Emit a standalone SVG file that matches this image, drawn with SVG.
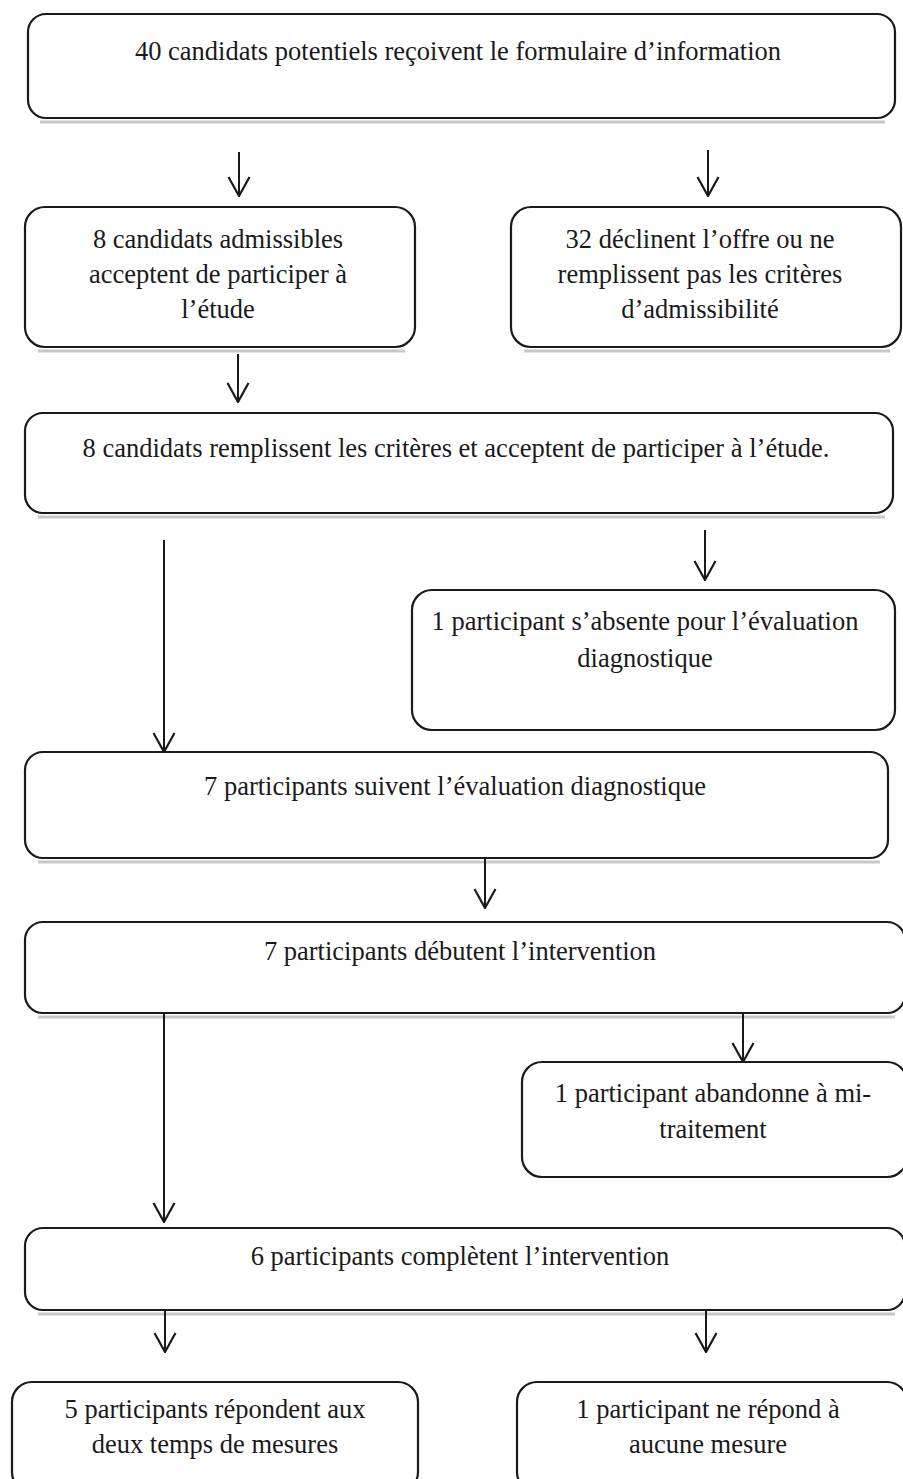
<svg xmlns="http://www.w3.org/2000/svg" width="903" height="1479" viewBox="0 0 903 1479">
<style>
.box{fill:#fff;stroke:#1a1a1a;stroke-width:2.2}
.sh{fill:none;stroke:#c8c8c8;stroke-width:3}
.t{font-family:"Liberation Serif","Times New Roman",serif;font-size:26.5px;fill:#1a1a1a;text-anchor:middle}
.c{stroke:#1a1a1a;stroke-width:2;fill:none}
</style>
<defs>
<marker id="ah" viewBox="0 0 21 24" refX="20" refY="12" markerWidth="21" markerHeight="24" markerUnits="userSpaceOnUse" orient="auto">
<path d="M1 1.5 L20 12 L1 22.5" fill="none" stroke="#1a1a1a" stroke-width="2.2"/>
</marker>
</defs>
<rect width="903" height="1479" fill="#fff"/>
<g id="n1">
<line class="sh" x1="40" y1="122" x2="885" y2="122"/>
<rect class="box" x="28" y="14" width="867" height="104" rx="18"/>
<text class="t" x="458" y="60">40 candidats potentiels reçoivent le formulaire d’information</text>
</g>
<g id="n2">
<line class="sh" x1="38" y1="351" x2="405" y2="351"/>
<rect class="box" x="25" y="207" width="390" height="140" rx="20"/>
<text class="t" x="218" y="248">8 candidats admissibles</text>
<text class="t" x="218" y="283">acceptent de participer à</text>
<text class="t" x="218" y="318">l’étude</text>
</g>
<g id="n3">
<line class="sh" x1="524" y1="351" x2="890" y2="351"/>
<rect class="box" x="511" y="207" width="390" height="140" rx="20"/>
<text class="t" x="700" y="248">32 déclinent l’offre ou ne</text>
<text class="t" x="700" y="283">remplissent pas les critères</text>
<text class="t" x="700" y="318">d’admissibilité</text>
</g>
<g id="n4">
<line class="sh" x1="38" y1="517" x2="885" y2="517"/>
<rect class="box" x="25" y="413" width="868" height="100" rx="18"/>
<text class="t" x="456" y="457">8 candidats remplissent les critères et acceptent de participer à l’étude.</text>
</g>
<g id="n5">
<rect class="box" x="412" y="590" width="483" height="140" rx="20"/>
<text class="t" x="645" y="630">1 participant s’absente pour l’évaluation</text>
<text class="t" x="645" y="667">diagnostique</text>
</g>
<g id="n6">
<line class="sh" x1="38" y1="862" x2="880" y2="862"/>
<rect class="box" x="25" y="752" width="863" height="106" rx="18"/>
<text class="t" x="455" y="795">7 participants suivent l’évaluation diagnostique</text>
</g>
<g id="n7">
<line class="sh" x1="38" y1="1017" x2="895" y2="1017"/>
<rect class="box" x="25" y="922" width="880" height="91" rx="18"/>
<text class="t" x="460" y="960">7 participants débutent l’intervention</text>
</g>
<g id="n8">
<rect class="box" x="522" y="1062" width="385" height="115" rx="20"/>
<text class="t" x="713" y="1102">1 participant abandonne à mi-</text>
<text class="t" x="713" y="1138">traitement</text>
</g>
<g id="n9">
<line class="sh" x1="38" y1="1314" x2="895" y2="1314"/>
<rect class="box" x="25" y="1228" width="880" height="82" rx="18"/>
<text class="t" x="460" y="1265">6 participants complètent l’intervention</text>
</g>
<g id="n10">
<rect class="box" x="12" y="1382" width="406" height="110" rx="20"/>
<text class="t" x="215" y="1418">5 participants répondent aux</text>
<text class="t" x="215" y="1453">deux temps de mesures</text>
</g>
<g id="n11">
<rect class="box" x="517" y="1382" width="390" height="110" rx="20"/>
<text class="t" x="708" y="1418">1 participant ne répond à</text>
<text class="t" x="708" y="1453">aucune mesure</text>
</g>
<g id="connectors">
<line class="c" x1="239" y1="152" x2="239" y2="196" marker-end="url(#ah)"/>
<line class="c" x1="708" y1="150" x2="708" y2="196" marker-end="url(#ah)"/>
<line class="c" x1="238" y1="354" x2="238" y2="402" marker-end="url(#ah)"/>
<line class="c" x1="705" y1="530" x2="705" y2="580" marker-end="url(#ah)"/>
<line class="c" x1="164" y1="540" x2="164" y2="752" marker-end="url(#ah)"/>
<line class="c" x1="485" y1="858" x2="485" y2="908" marker-end="url(#ah)"/>
<line class="c" x1="743" y1="1013" x2="743" y2="1062" marker-end="url(#ah)"/>
<line class="c" x1="164" y1="1013" x2="164" y2="1222" marker-end="url(#ah)"/>
<line class="c" x1="165" y1="1310" x2="165" y2="1352" marker-end="url(#ah)"/>
<line class="c" x1="706" y1="1310" x2="706" y2="1352" marker-end="url(#ah)"/>
</g>
</svg>
